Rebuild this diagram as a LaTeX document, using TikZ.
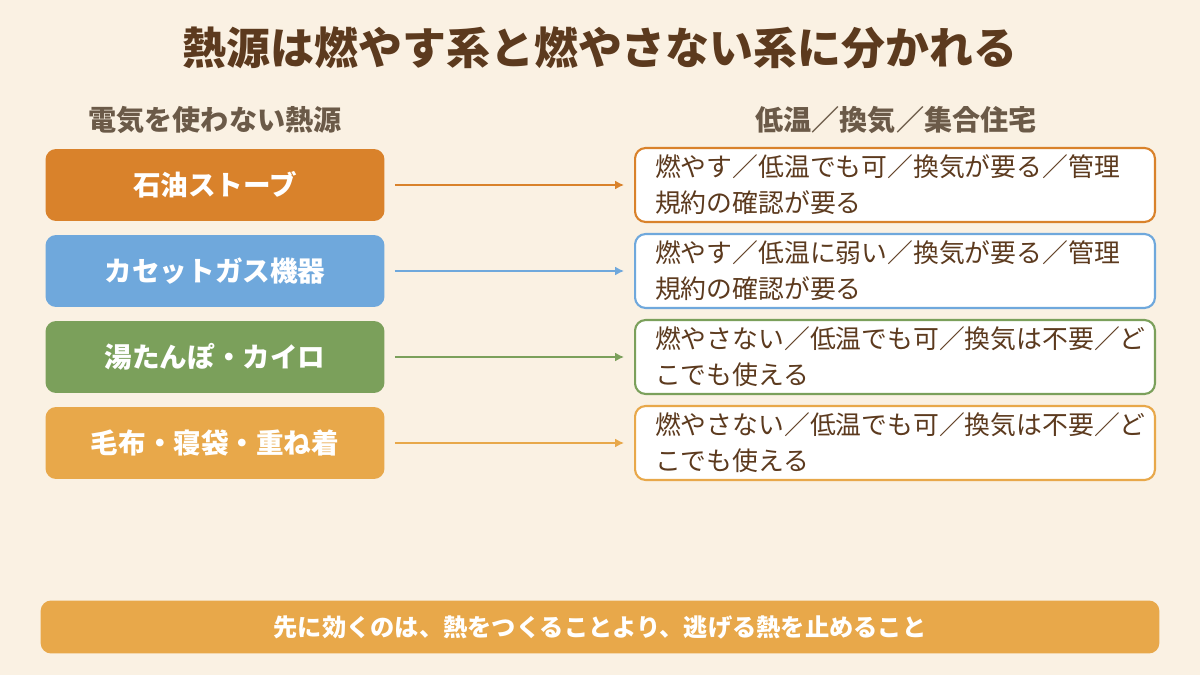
\documentclass[tikz,border=0pt]{standalone}
\usepackage{fontspec}
\setmainfont{Noto Sans CJK JP}
\usetikzlibrary{positioning,arrows.meta}
\definecolor{bgcol}{HTML}{FAF1E3}
\definecolor{titlecol}{HTML}{5C3A1E}
\definecolor{headcol}{HTML}{6B5A48}
\definecolor{oilcol}{HTML}{D9822B}
\definecolor{gascol}{HTML}{6FA8DC}
\definecolor{bottlecol}{HTML}{7BA05B}
\definecolor{blanketcol}{HTML}{E8A84A}
\tikzset{
  src/.style={rounded corners=6pt, minimum width=6.78cm, minimum height=1.44cm,
    text=white, font=\fontsize{15.7}{18}\selectfont\bfseries},
  note/.style={draw=#1, line width=1.2pt, fill=white, rounded corners=6pt,
    minimum width=10.4cm, minimum height=1.48cm, text width=9.6cm, align=left,
    text=titlecol, font=\fontsize{14.7}{20.4}\selectfont},
  link/.style={draw=#1, line width=0.9pt, -{Latex[length=5pt,width=5pt]}},
  head/.style={text=headcol, font=\fontsize{16}{18}\selectfont\bfseries}
}
\begin{document}
\begin{tikzpicture}[x=0.02cm, y=-0.02cm]
\fill[bgcol] (0,0) rectangle (1200,675);
\useasboundingbox (0,0) rectangle (1200,675);
\node[text=titlecol, font=\fontsize{25}{30}\selectfont\bfseries] (title) at (600,48) {熱源は燃やす系と燃やさない系に分かれる};
\node[head] (lhead) at (215,120) {電気を使わない熱源};
\node[head] (rhead) at (896,120) {低温／換気／集合住宅};
% sources and notes
\foreach \y/\c/\s/\n [count=\i] in {
  185/oilcol/石油ストーブ/{燃やす／低温でも可／換気が要る／管理\\規約の確認が要る},
  271/gascol/カセットガス機器/{燃やす／低温に弱い／換気が要る／管理\\規約の確認が要る},
  357/bottlecol/湯たんぽ・カイロ/{燃やさない／低温でも可／換気は不要／ど\\こでも使える},
  443/blanketcol/毛布・寝袋・重ね着/{燃やさない／低温でも可／換気は不要／ど\\こでも使える}} {
  \node[src, fill=\c] (src\i) at (215,\y) {\s};
  \node[note=\c] (note\i) at (895,\y) {\n};
  \draw[link=\c] ([xshift=0.2cm]src\i.east) -- ([xshift=-0.2cm]note\i.west);
}
\node[fill=blanketcol, rounded corners=6pt, minimum width=22.38cm, minimum height=1.06cm,
  text=white, font=\fontsize{13.8}{16}\selectfont\bfseries] (sum) at (600,627)
  {先に効くのは、熱をつくることより、逃げる熱を止めること};
\end{tikzpicture}
\end{document}
